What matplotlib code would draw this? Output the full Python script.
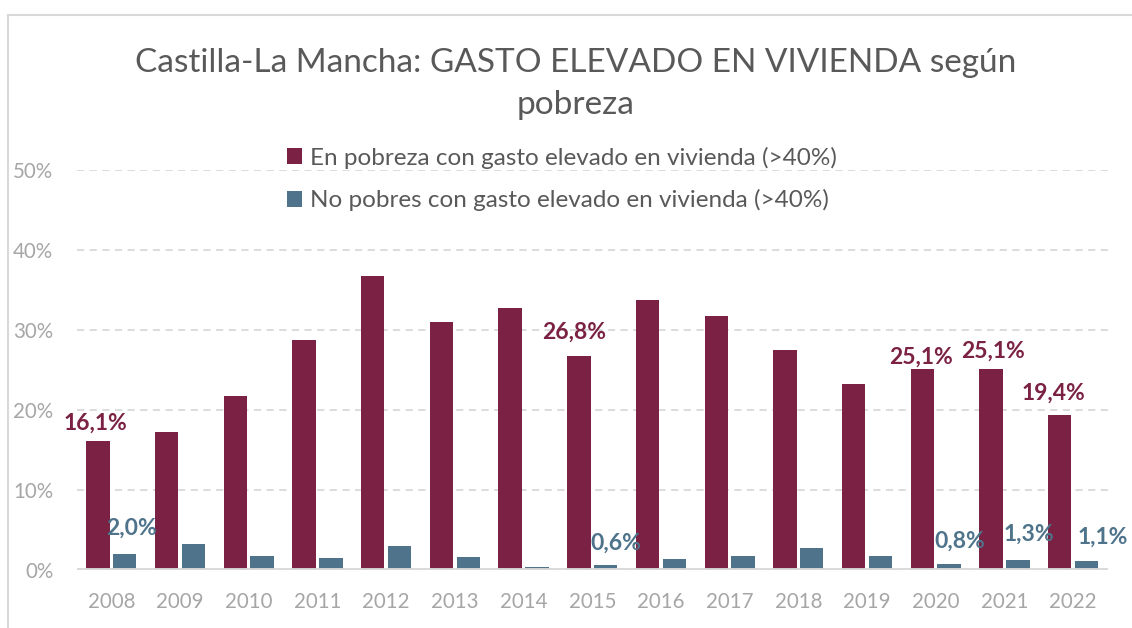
import matplotlib
matplotlib.use("Agg")
import matplotlib.pyplot as plt
from matplotlib.patches import Rectangle, Patch
import numpy as np

years = ["2008", "2009", "2010", "2011", "2012", "2013", "2014", "2015",
         "2016", "2017", "2018", "2019", "2020", "2021", "2022"]
pobres = [16.1, 17.2, 21.7, 28.8, 36.8, 31.0, 32.8, 26.8, 33.8, 31.8, 27.5, 23.3, 25.1, 25.1, 19.4]
no_pobres = [2.0, 3.3, 1.8, 1.5, 3.0, 1.6, 0.4, 0.6, 1.4, 1.7, 2.8, 1.7, 0.8, 1.3, 1.1]
yticks = [0, 10, 20, 30, 40, 50]
ytick_labels = ["0%", "10%", "20%", "30%", "40%", "50%"]
serie1 = "En pobreza con gasto elevado en vivienda (>40%)"
serie2 = "No pobres con gasto elevado en vivienda (>40%)"
title = "Castilla-La Mancha: GASTO ELEVADO EN VIVIENDA según\npobreza"

# labelled points: (index, dx, dy)
labels_p = [(0, -0.23, 2.3), (7, -0.26, 2.95), (12, -0.21, 1.56), (13, -0.17, 2.3), (14, -0.28, 2.7)]
labels_n = [(0, 0.30, 3.25), (7, 0.34, 2.8), (12, 0.35, 2.8), (13, 0.35, 3.2), (14, 0.43, 2.96)]

RED = "#7B2143"
BLUE = "#4E738A"
GRAY_T = "#A6A6A6"

plt.rcParams['font.family'] = ['Lato', 'DejaVu Sans']

W, H = 1132, 628
fig = plt.figure(figsize=(W / 100, H / 100), dpi=100)

# chart border
fig.patches.append(Rectangle((8 / W, -0.1), 1.2, (H - 15) / H + 0.1, transform=fig.transFigure,
                             fill=False, edgecolor="#D9D9D9", linewidth=1.5))

ax = fig.add_axes([77 / W, (H - 570) / H, (1107.5 - 77) / W, 400 / H])
x = np.arange(len(years))
bw = 0.34
g = 0.025
ax.bar(x - bw / 2 - g, pobres, width=bw, color=RED, zorder=3)
ax.bar(x + bw / 2 + g, no_pobres, width=bw, color=BLUE, zorder=3)

ax.set_xlim(-0.5, len(years) - 0.5)
ax.set_ylim(0, 50)
ax.set_yticks(yticks)
ax.set_yticklabels(ytick_labels)
ax.set_xticks(x)
ax.set_xticklabels(years)
ax.tick_params(axis='both', length=0, colors=GRAY_T, labelsize=14.8)
ax.tick_params(axis='x', pad=16)
ax.tick_params(axis='y', pad=17)
for s in ax.spines.values():
    s.set_visible(False)
for yv in yticks[1:]:
    ax.axhline(yv, color="#D9D9D9", linestyle=(0, (4, 3)), linewidth=1.3, zorder=1)
ax.axhline(0, color="#D9D9D9", linewidth=3.5, zorder=4)
ax.set_facecolor("none")

def fmt(v):
    return f"{v:.1f}".replace(".", ",") + "%"

for i, dx, dy in labels_p:
    ax.text(i + dx, pobres[i] + dy, fmt(pobres[i]), color=RED, fontsize=16.5,
            fontweight='bold', ha='center', va='center', zorder=5)
for i, dx, dy in labels_n:
    ax.text(i + dx, no_pobres[i] + dy, fmt(no_pobres[i]), color=BLUE, fontsize=16.5,
            fontweight='bold', ha='center', va='center', zorder=5)

fig.text(576 / W, 1 - 84 / H, title, ha='center', va='center', fontsize=24,
         color="#595959", linespacing=1.5)

handles = [Patch(facecolor=RED), Patch(facecolor=BLUE)]
fig.legend(handles, [serie1, serie2], loc='center', bbox_to_anchor=(562 / W, 1 - 179 / H),
           ncol=1, frameon=False, fontsize=17.5, labelcolor="#595959",
           handlelength=0.62, handleheight=0.62, handletextpad=0.3, labelspacing=0.83,
           borderpad=0, borderaxespad=0)

fig.savefig("out.png", dpi=100)
